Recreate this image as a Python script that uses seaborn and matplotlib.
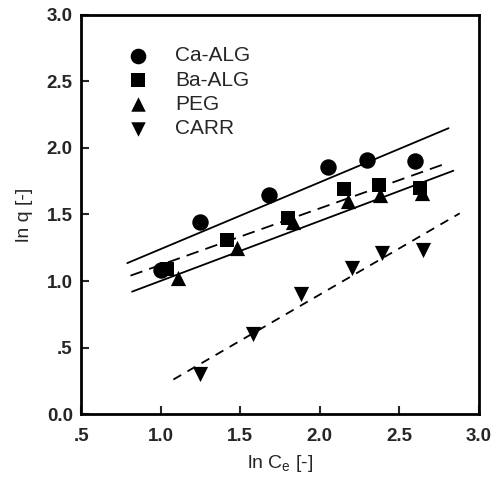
import numpy as np
import pandas as pd
import matplotlib
matplotlib.use("Agg")
import matplotlib.pyplot as plt
import seaborn as sns

# data
ca_x = [1.00, 1.25, 1.68, 2.05, 2.30, 2.60]
ca_y = [1.08, 1.44, 1.65, 1.86, 1.91, 1.90]
ba_x = [1.04, 1.42, 1.80, 2.15, 2.37, 2.63]
ba_y = [1.09, 1.31, 1.47, 1.69, 1.72, 1.70]
peg_x = [1.11, 1.48, 1.83, 2.18, 2.38, 2.64]
peg_y = [1.02, 1.25, 1.44, 1.60, 1.65, 1.66]
carr_x = [1.25, 1.58, 1.88, 2.20, 2.39, 2.65]
carr_y = [0.30, 0.60, 0.90, 1.10, 1.21, 1.23]

names = ["Ca-ALG", "Ba-ALG", "PEG", "CARR"]
# fitted lines: slope, intercept, x range
slopes = [0.502, 0.425, 0.450, 0.694]
intercepts = [0.738, 0.696, 0.551, -0.490]
fit_start = [0.79, 0.81, 0.82, 1.08]
fit_end = [2.81, 2.81, 2.84, 2.88]

xticks = [0.5, 1.0, 1.5, 2.0, 2.5, 3.0]
xticklabels = [".5", "1.0", "1.5", "2.0", "2.5", "3.0"]
yticks = [0.0, 0.5, 1.0, 1.5, 2.0, 2.5, 3.0]
yticklabels = ["0.0", ".5", "1.0", "1.5", "2.0", "2.5", "3.0"]

df = pd.DataFrame({
    "x": ca_x + ba_x + peg_x + carr_x,
    "y": ca_y + ba_y + peg_y + carr_y,
    "sample": [n for n in names for _ in range(6)],
})

sns.set_style("ticks")
plt.rcParams["font.family"] = ["Liberation Sans", "DejaVu Sans"]
plt.rcParams["mathtext.fontset"] = "custom"
plt.rcParams["mathtext.rm"] = "Liberation Sans"
plt.rcParams["mathtext.it"] = "Liberation Sans"

fig = plt.figure(figsize=(5.04, 4.82), dpi=100)
ax = fig.add_axes([0.161, 0.141, 0.789, 0.828])

styles = ["-", (0, (7, 4)), "-", (0, (5, 4))]
for s, b, x0, x1, ls in zip(slopes, intercepts, fit_start, fit_end, styles):
    xs = np.array([x0, x1])
    ax.plot(xs, b + s * xs, color="black", lw=1.3, linestyle=ls, zorder=1)

markers = {"Ca-ALG": "o", "Ba-ALG": "s", "PEG": "^", "CARR": "v"}
sizes = {"Ca-ALG": 140, "Ba-ALG": 110, "PEG": 120, "CARR": 120}
for n in names:
    sub = df[df["sample"] == n]
    sns.scatterplot(data=sub, x="x", y="y", marker=markers[n], s=sizes[n],
                    color="black", edgecolor="black", linewidth=0, ax=ax,
                    label=n, zorder=3)

leg = ax.legend(loc="upper left", frameon=False, fontsize=15, bbox_to_anchor=(0.095, 0.942),
                handletextpad=1.3, labelspacing=0.25, markerscale=0.95,
                handlelength=1.0, borderaxespad=0)

ax.set_xlim(0.5, 3.0)
ax.set_ylim(0.0, 3.0)
ax.set_xticks(xticks)
ax.set_xticklabels(xticklabels, fontweight="bold")
ax.set_yticks(yticks)
ax.set_yticklabels(yticklabels, fontweight="bold")
ax.tick_params(direction="in", length=6, width=1.5, labelsize=13.5, pad=10,
               top=False, right=False)
ax.tick_params(axis="y", pad=6)
for sp in ax.spines.values():
    sp.set_linewidth(2)
    sp.set_color("black")
ax.set_xlabel("ln C$_\\mathrm{e}$ [-]", fontsize=14, labelpad=6)
ax.set_ylabel("ln q [-]", fontsize=14, labelpad=10)

fig.savefig("out.png", dpi=100)
